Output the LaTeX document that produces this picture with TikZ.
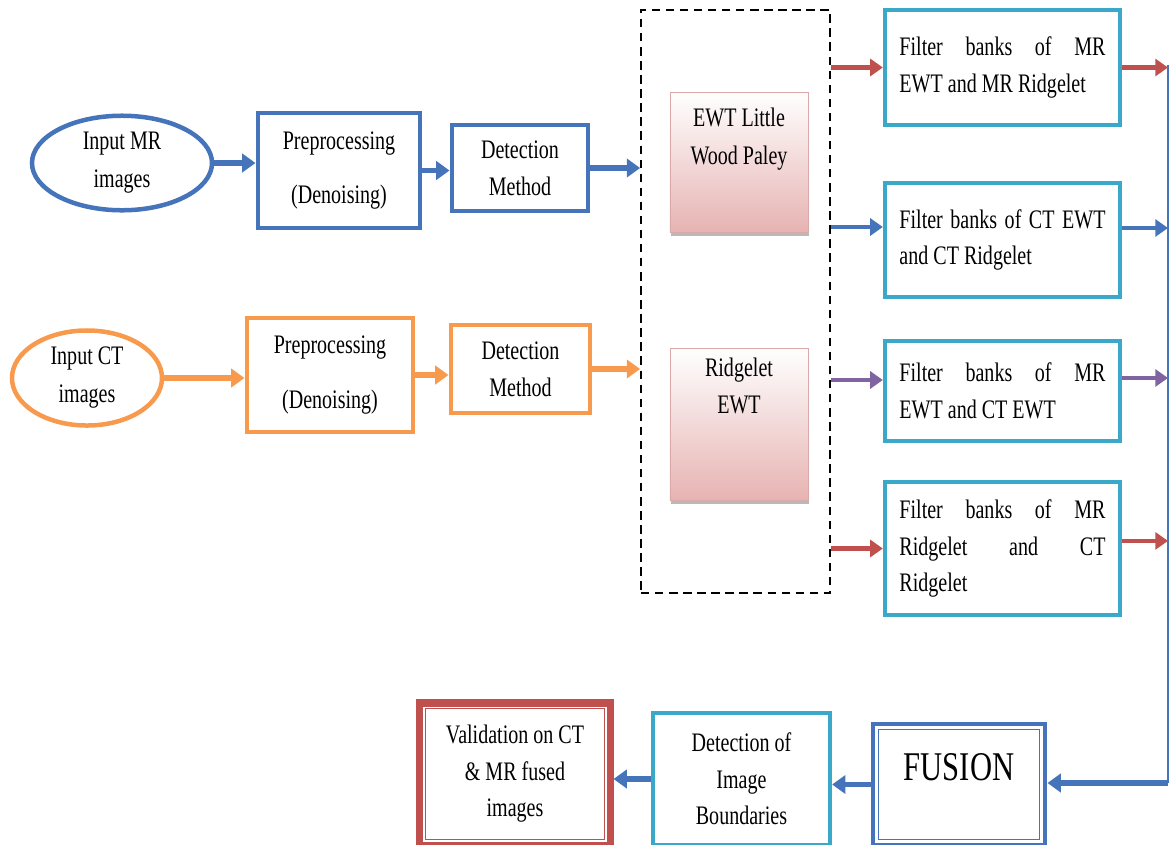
\documentclass[tikz,border=0pt]{standalone}
\usepackage{fontspec}
\setmainfont{Liberation Serif}[FakeStretch=0.75]
\usetikzlibrary{arrows.meta,shapes.geometric,shadows,positioning}
\definecolor{mrblue}{HTML}{4674BA}
\definecolor{ctorange}{HTML}{F79A4E}
\definecolor{bankaqua}{HTML}{3AA8C9}
\definecolor{pathred}{HTML}{C0504D}
\definecolor{pathpurple}{HTML}{8064A2}
\definecolor{pinkbot}{HTML}{E6B3B2}
\definecolor{pinkline}{HTML}{D9A9A8}
\def\boxfont{\fontsize{19pt}{26pt}\selectfont\hyphenpenalty=10000\tolerance=10000}
\def\bigfont{\fontsize{29pt}{34pt}\selectfont}

\tikzset{
  every node/.style={font=\boxfont, align=center, inner sep=2pt},
  inputell/.style={ellipse, draw=#1, line width=3.2pt},
  stagebox/.style={rectangle, draw=#1, line width=3.5pt},
  bankbox/.style={rectangle, draw=bankaqua, line width=3pt, text width=5.15cm,
    align=justify, minimum width=5.875cm},
  waveletbox/.style={rectangle, draw=pinkline, line width=0.6pt, top color=white,
    bottom color=pinkbot, minimum width=3.45cm,
    drop shadow={shadow xshift=0.5pt, shadow yshift=-3pt, fill=black!50, opacity=0.55}},
  flow/.style={line width=3.8pt, -{Triangle[length=9.5pt,width=13pt]}},
  flowthin/.style={line width=3pt, -{Triangle[length=9pt,width=12pt]}},
}

\begin{document}
\begin{tikzpicture}[x=0.025cm, y=-0.025cm]
\useasboundingbox (0,0) rectangle (1172,844);

% MR branch
\node[inputell=mrblue, minimum width=4.5cm, minimum height=2.25cm] (inMR) at (122,163) {Input MR\\[1pt]images};
\node[stagebox=mrblue, minimum width=4.05cm, minimum height=2.875cm] (preMR) at (339,170.5) {Preprocessing\\[13pt](Denoising)};
\node[stagebox=mrblue, minimum width=3.4cm, minimum height=2.15cm] (detMR) at (520,168) {Detection\\Method};

% CT branch
\node[inputell=ctorange, minimum width=3.75cm, minimum height=2.375cm] (inCT) at (87,378) {Input CT\\[1pt]images};
\node[stagebox=ctorange, minimum width=4.15cm, minimum height=2.85cm] (preCT) at (330,375) {Preprocessing\\[13pt](Denoising)};
\node[stagebox=ctorange, minimum width=3.475cm, minimum height=2.2cm] (detCT) at (520.5,369) {Detection\\Method};

% transforms
\node[draw, line width=1.2pt, dash pattern=on 6pt off 4pt, minimum width=4.725cm, minimum height=14.575cm] (trans) at (735.5,301.5) {};
\node[waveletbox, minimum height=3.5cm, text depth=1.3cm] (ewt) at (739,162) {EWT Little\\[1pt]Wood Paley};
\node[waveletbox, minimum height=3.8cm, text depth=1.9cm] (ridg) at (739,424) {Ridgelet\\EWT};

% filter banks
\node[bankbox, minimum height=2.875cm] (f1) at (1002.5,67.5) {Filter banks of MR\linebreak EWT and MR Ridgelet};
\node[bankbox, minimum height=2.85cm] (f2) at (1002.5,240) {Filter banks of CT EWT\linebreak and CT Ridgelet};
\node[bankbox, minimum height=2.5cm] (f3) at (1002.5,391) {Filter banks of MR\linebreak EWT and CT EWT};
\node[bankbox, minimum height=3.325cm] (f4) at (1002.5,548.5) {Filter banks of MR\linebreak Ridgelet and CT\linebreak Ridgelet};

% output chain
\node[stagebox=mrblue, minimum width=4.3cm, minimum height=3.025cm, font=\bigfont, text depth=0.9cm] (fus) at (959,784.5) {FUSION};
\node[stagebox=bankaqua, line width=3pt, minimum width=4.425cm, minimum height=3.3cm] (bound) at (741.5,779) {Detection of\\Image\\Boundaries};
\node[stagebox=pathred, line width=5pt, minimum width=4.75cm, minimum height=3.55cm] (valid) at (515,774) {Validation on CT\\\& MR fused\\images};
\draw[mrblue, line width=1pt] ([shift={(0.2cm,-0.2cm)}]fus.north west) rectangle ([shift={(-0.2cm,0.2cm)}]fus.south east);
\draw[pathred, line width=1pt] ([shift={(0.22cm,-0.22cm)}]valid.north west) rectangle ([shift={(-0.22cm,0.22cm)}]valid.south east);

% connectors
\draw[flow, mrblue] (inMR.east) -- (inMR.east -| preMR.west);
\draw[flow, mrblue] (preMR.east) -- (preMR.east -| detMR.west);
\draw[flow, mrblue] (detMR.east) -- (detMR.east -| trans.west);
\draw[flow, ctorange] (inCT.east) -- (inCT.east -| preCT.west);
\draw[flow, ctorange] (preCT.east) -- (preCT.east -| detCT.west);
\draw[flow, ctorange] (detCT.east) -- (detCT.east -| trans.west);

\coordinate (f2in) at ([yshift=0.325cm]f2.west);
\coordinate (f3in) at ([yshift=0.275cm]f3.west);
\draw[flowthin, pathred] (trans.east |- f1.west) -- (f1.west);
\draw[flowthin, mrblue] (trans.east |- f2in) -- (f2in);
\draw[flowthin, pathpurple] (trans.east |- f3in) -- (f3in);
\draw[flowthin, pathred] (trans.east |- f4.west) -- (f4.west);

\coordinate (busTop) at (1168,65);
\coordinate (busBot) at (1168,783);
\coordinate (f2out) at ([yshift=0.3cm]f2.east);
\coordinate (f3out) at ([yshift=0.325cm]f3.east);
\coordinate (f4out) at ([yshift=0.19cm]f4.east);
\draw[mrblue, line width=2pt] (busTop) -- (busBot);
\draw[flowthin, pathred] (f1.east) -- (f1.east -| busTop);
\draw[flowthin, mrblue] (f2out) -- (f2out -| busTop);
\draw[flowthin, pathpurple] (f3out) -- (f3out -| busTop);
\draw[flowthin, pathred] (f4out) -- (f4out -| busTop);
\draw[flow, mrblue] (busBot) -- (busBot -| fus.east);
\draw[flow, mrblue] (fus.west) -- (fus.west -| bound.east);
\draw[flow, mrblue] (bound.west) -- (bound.west -| valid.east);
\end{tikzpicture}
\end{document}
